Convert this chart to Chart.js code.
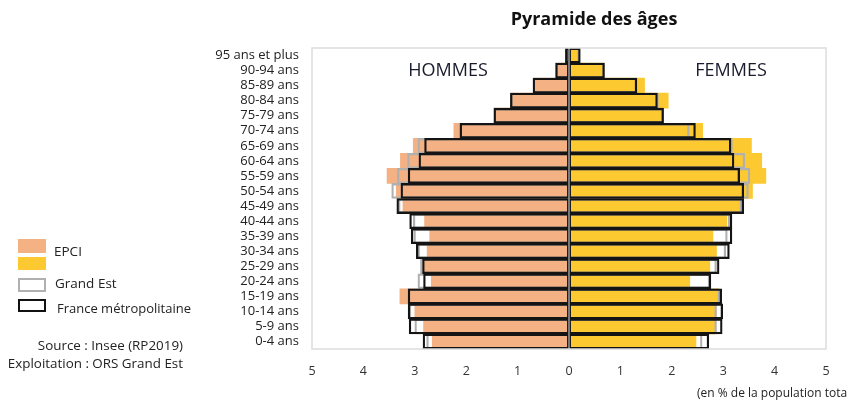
<!DOCTYPE html>
<html>
<head>
<meta charset="utf-8">
<script src="https://cdn.jsdelivr.net/npm/chart.js@4.4.0/dist/chart.umd.min.js"></script>
<style>
  html, body { margin: 0; padding: 0; background: #fff; }
  #wrap { width: 848px; height: 400px; }
</style>
</head>
<body>
<div id="wrap"><canvas id="pyramide" width="848" height="400"></canvas></div>
<script>
const ages = ['95 ans et plus', '90-94 ans', '85-89 ans', '80-84 ans', '75-79 ans', '70-74 ans',
    '65-69 ans', '60-64 ans', '55-59 ans', '50-54 ans', '45-49 ans', '40-44 ans', '35-39 ans',
    '30-34 ans', '25-29 ans', '20-24 ans', '15-19 ans', '10-14 ans', '5-9 ans', '0-4 ans'];

// % de la population totale, du haut (95+) vers le bas (0-4)
const epciHommes = [0.05, 0.26, 0.68, 1.13, 1.46, 2.24, 3.03, 3.28, 3.54, 3.36, 3.23, 2.81, 2.71,
    2.76, 2.83, 2.68, 3.29, 3.00, 2.83, 2.66];
const epciFemmes = [0.17, 0.68, 1.47, 1.93, 1.83, 2.60, 3.55, 3.75, 3.83, 3.57, 3.32, 3.07, 2.80,
    2.87, 2.74, 2.35, 2.91, 2.86, 2.84, 2.47];
const grandEstHommes = [0.07, 0.26, 0.70, 1.14, 1.46, 2.14, 2.94, 3.14, 3.34, 3.45, 3.32, 3.03, 3.02,
    2.94, 2.89, 2.94, 3.13, 3.11, 3.00, 2.77];
const grandEstFemmes = [0.20, 0.69, 1.32, 1.74, 1.84, 2.34, 3.18, 3.42, 3.52, 3.49, 3.36, 3.13, 3.08,
    3.05, 2.87, 2.74, 2.93, 2.87, 2.87, 2.59];
const franceHommes = [0.07, 0.26, 0.70, 1.14, 1.46, 2.12, 2.81, 2.92, 3.13, 3.27, 3.35, 3.10, 3.07,
    2.97, 2.85, 2.83, 3.13, 3.13, 3.11, 2.84];
const franceFemmes = [0.22, 0.69, 1.32, 1.72, 1.84, 2.46, 3.15, 3.21, 3.32, 3.40, 3.40, 3.17, 3.17,
    3.12, 2.92, 2.76, 2.97, 2.99, 2.98, 2.72];
const xTicks = [-5, -4, -3, -2, -1, 0, 1, 2, 3, 4, 5];

const font = "'Open Sans', 'DejaVu Sans', sans-serif";
const neg = arr => arr.map(v => -v);

function barSet(label, data, fill, border, width, order) {
    return {
        label: label,
        data: data,
        backgroundColor: fill,
        borderColor: border,
        borderWidth: width,
        borderSkipped: false,
        grouped: false,
        categoryPercentage: 1,
        barPercentage: 1,
        order: order
    };
}

const decor = {
    id: 'decor',
    afterDatasetsDraw(chart) {
        const c = chart.ctx;
        const a = chart.chartArea;
        const x0 = chart.scales.x.getPixelForValue(0);
        c.save();
        // ligne centrale
        c.strokeStyle = '#9a9a9a';
        c.lineWidth = 1.5;
        c.beginPath();
        c.moveTo(x0, a.top);
        c.lineTo(x0, a.bottom);
        c.stroke();
        // cadre
        c.strokeStyle = '#dcdcdc';
        c.lineWidth = 1.5;
        c.strokeRect(a.left, a.top, a.right - a.left, a.bottom - a.top);
        c.restore();
    },
    afterDraw(chart) {
        const c = chart.ctx;
        c.save();
        c.textBaseline = 'middle';
        c.fillStyle = '#111';
        c.font = 'bold 18px ' + font;
        c.textAlign = 'center';
        c.fillText('Pyramide des âges', 594, 20);

        c.font = '18px ' + font;
        c.fillStyle = '#1a1a2e';
        c.fillText('HOMMES', 448, 71);
        c.fillText('FEMMES', 731, 71);

        // légende
        c.fillStyle = '#F4B183';
        c.fillRect(18, 239, 28, 14);
        c.fillStyle = '#FCC930';
        c.fillRect(18, 257, 28, 13);
        c.lineWidth = 2;
        c.strokeStyle = '#b0b0b0';
        c.strokeRect(19, 279, 26, 12);
        c.strokeStyle = '#111';
        c.strokeRect(19, 300, 26, 11);

        c.textAlign = 'left';
        c.fillStyle = '#222';
        c.font = '13.5px ' + font;
        c.fillText('EPCI', 54, 252);
        c.fillText('Grand Est', 55, 284);
        c.font = '13px ' + font;
        c.fillText('France métropolitaine', 57, 309);

        c.textAlign = 'right';
        c.font = '13.4px ' + font;
        c.fillText('Source : Insee (RP2019)', 183, 346);
        c.fillText('Exploitation : ORS Grand Est', 183, 364);

        c.textAlign = 'left';
        c.font = '12px ' + font;
        c.fillText('(en % de la population totale)', 697, 394);
        c.restore();
    }
};

const ctx = document.getElementById('pyramide').getContext('2d');
const pyramide = new Chart(ctx, {
    type: 'bar',
    data: {
        labels: ages,
        datasets: [
            barSet('France métropolitaine H', neg(franceHommes), 'rgba(0,0,0,0)', '#141414', 1.6, 0),
            barSet('France métropolitaine F', franceFemmes, 'rgba(0,0,0,0)', '#141414', 1.6, 0),
            barSet('Grand Est H', neg(grandEstHommes), 'rgba(0,0,0,0)', '#b0b0b0', 1.6, 1),
            barSet('Grand Est F', grandEstFemmes, 'rgba(0,0,0,0)', '#b0b0b0', 1.6, 1),
            barSet('EPCI H', neg(epciHommes), '#F4B183', '#F4B183', 0, 2),
            barSet('EPCI F', epciFemmes, '#FCC930', '#FCC930', 0, 2)
        ]
    },
    options: {
        indexAxis: 'y',
        responsive: false,
        animation: false,
        layout: { padding: { left: 0, right: 22, top: 48, bottom: 0 } },
        plugins: {
            legend: { display: false },
            tooltip: { enabled: false },
            title: { display: false }
        },
        scales: {
            x: {
                min: -5,
                max: 5,
                afterBuildTicks: scale => { scale.ticks = xTicks.map(v => ({ value: v })); },
                grid: { display: false, drawTicks: false },
                border: { display: false },
                ticks: {
                    padding: 15,
                    color: '#333',
                    font: { family: font, size: 12.5 },
                    callback: v => Math.abs(v)
                },
                afterFit: scale => { scale.height = 51; }
            },
            y: {
                grid: { display: false, drawTicks: false },
                border: { display: false },
                ticks: {
                    autoSkip: false,
                    padding: 13,
                    color: '#222',
                    font: { family: font, size: 13 }
                },
                afterFit: scale => { scale.width = 312; }
            }
        }
    },
    plugins: [decor]
});
</script>
</body>
</html>
